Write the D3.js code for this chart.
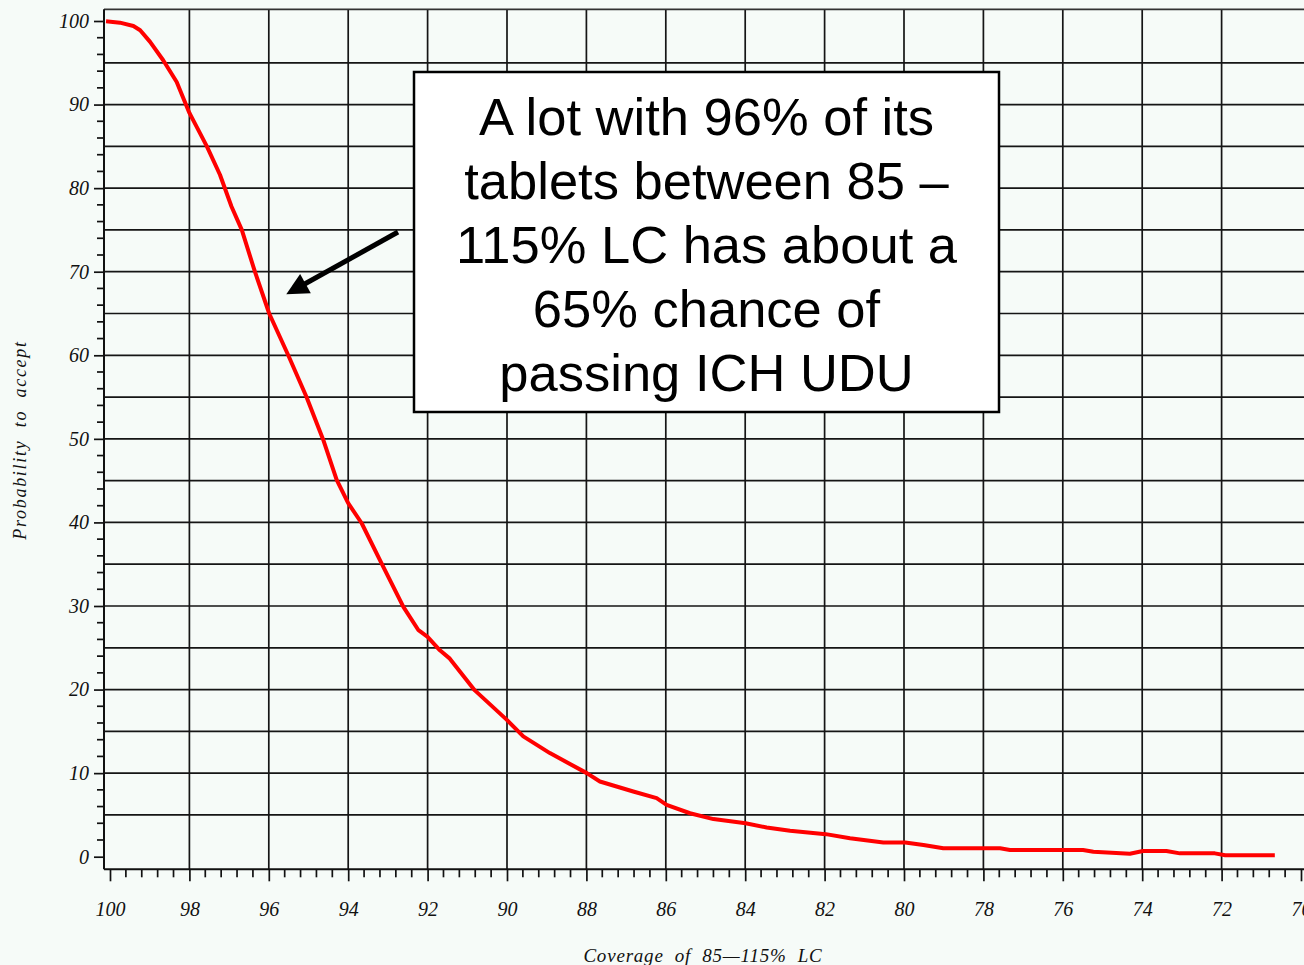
<!DOCTYPE html>
<html>
<head>
<meta charset="utf-8">
<script src="https://cdn.jsdelivr.net/npm/d3@7"></script>
<style>
  html, body { margin: 0; padding: 0; background: #f6fbf8; }
  svg { display: block; }
</style>
</head>
<body>
<script>
// ---- Data ----
const coverage = [100.05, 99.75, 99.41, 99.24, 98.99, 98.66, 98.32, 98.0, 97.56, 97.23, 96.94, 96.68, 96.35, 95.99, 95.51, 95.05, 94.63, 94.29, 94.0, 93.66, 93.16, 92.61, 92.23, 92.0, 91.69, 91.44, 90.81, 90.01, 89.59, 88.92, 87.99, 87.66, 86.82, 86.23, 85.98, 85.39, 84.80, 83.99, 83.46, 82.87, 81.97, 81.36, 80.52, 79.97, 79.51, 79.01, 77.58, 77.33, 75.49, 75.23, 74.31, 73.98, 73.39, 73.05, 72.17, 71.91, 70.71];
const probability = [99.95, 99.8, 99.4, 98.9, 97.5, 95.3, 92.7, 89.0, 85.0, 81.6, 77.8, 75.0, 70.0, 65.0, 60.0, 55.0, 49.9, 45.1, 42.3, 39.9, 35.1, 29.9, 27.1, 26.3, 24.7, 23.7, 19.9, 16.4, 14.4, 12.4, 10.0, 9.0, 7.8, 7.0, 6.2, 5.2, 4.5, 4.0, 3.5, 3.1, 2.7, 2.2, 1.7, 1.7, 1.4, 1.0, 1.0, 0.8, 0.8, 0.6, 0.35, 0.68, 0.68, 0.4, 0.4, 0.17, 0.17];

const xTickLabels = [100, 98, 96, 94, 92, 90, 88, 86, 84, 82, 80, 78, 76, 74, 72, 70];
const yTickLabels = [0, 10, 20, 30, 40, 50, 60, 70, 80, 90, 100];
const xGridValues = [98, 96, 94, 92, 90, 88, 86, 84, 82, 80, 78, 76, 74, 72];
const yGridValues = [5, 10, 15, 20, 25, 30, 35, 40, 45, 50, 55, 60, 65, 70, 75, 80, 85, 90, 95];

const xTitle = "Coverage  of  85\u2014115%  LC";
const yTitle = "Probability  to  accept";
const noteLines = ["A lot with 96% of its", "tablets between 85 \u2013", "115% LC has about a", "65% chance of", "passing ICH UDU"];
const noteTarget = [95.56, 67.3];

// ---- Layout ----
const W = 1304, H = 965;
const plotLeft = 104, plotTop = 9.3, plotBottom = 869.3, plotRight = 1304;

const x = d3.scaleLinear().domain([100, 70]).range([110, 1301]);
const y = d3.scaleLinear().domain([0, 100]).range([856.7, 21]);

const svg = d3.select("body").append("svg").attr("width", W).attr("height", H);
svg.append("rect").attr("width", W).attr("height", H).attr("fill", "#f6fbf8");

const labelFont = "'Liberation Serif', 'Times New Roman', serif";

// grid
const grid = svg.append("g").attr("stroke", "#151515").attr("stroke-width", 1.7);
grid.selectAll("line.h").data(yGridValues).join("line")
  .attr("x1", plotLeft).attr("x2", plotRight)
  .attr("y1", d => y(d)).attr("y2", d => y(d));
grid.selectAll("line.v").data(xGridValues).join("line")
  .attr("y1", plotTop).attr("y2", plotBottom)
  .attr("x1", d => x(d)).attr("x2", d => x(d));
// top frame
svg.append("line").attr("x1", plotLeft).attr("x2", plotRight)
  .attr("y1", plotTop).attr("y2", plotTop).attr("stroke", "#333").attr("stroke-width", 1.8);

// y axis
const yMinor = d3.range(0, 101, 2).filter(d => d % 10 !== 0);
const yAxis = d3.axisLeft(y).tickValues(yTickLabels).tickSize(10).tickPadding(5).tickSizeOuter(0);
const gy = svg.append("g").attr("transform", `translate(${plotLeft},0)`).call(yAxis);
gy.select(".domain").remove();
gy.selectAll(".tick line").attr("stroke", "#111").attr("stroke-width", 1.7);
gy.selectAll(".tick text").attr("font-family", labelFont).attr("font-style", "italic")
  .attr("font-size", 20).attr("fill", "#111");
gy.append("g").selectAll("line").data(yMinor).join("line")
  .attr("x1", -7).attr("x2", 0).attr("y1", d => y(d)).attr("y2", d => y(d))
  .attr("stroke", "#111").attr("stroke-width", 1.7);
svg.append("line").attr("x1", plotLeft).attr("x2", plotLeft).attr("y1", plotTop).attr("y2", plotBottom)
  .attr("stroke", "#111").attr("stroke-width", 2);

// x axis
const xMinor = d3.range(0, 76).map(i => +(100 - i * 0.4).toFixed(2)).filter(d => Math.abs(d / 2 - Math.round(d / 2)) > 1e-6);
const xAxis = d3.axisBottom(x).tickValues(xTickLabels).tickSize(12).tickPadding(21).tickSizeOuter(0);
const gx = svg.append("g").attr("transform", `translate(0,${plotBottom})`).call(xAxis);
gx.select(".domain").remove();
gx.selectAll(".tick line").attr("stroke", "#111").attr("stroke-width", 1.7);
gx.selectAll(".tick text").attr("font-family", labelFont).attr("font-style", "italic")
  .attr("font-size", 20).attr("fill", "#111");
gx.append("g").selectAll("line").data(xMinor).join("line")
  .attr("x1", d => x(d)).attr("x2", d => x(d)).attr("y1", 0).attr("y2", 8)
  .attr("stroke", "#111").attr("stroke-width", 1.7);
svg.append("line").attr("x1", plotLeft).attr("x2", plotRight).attr("y1", plotBottom).attr("y2", plotBottom)
  .attr("stroke", "#111").attr("stroke-width", 2);

// axis titles
svg.append("text").attr("x", 703).attr("y", 962).attr("text-anchor", "middle")
  .attr("font-family", labelFont).attr("font-style", "italic").attr("font-size", 19)
  .attr("letter-spacing", 0.8)
  .attr("fill", "#111").attr("style", "white-space:pre").text(xTitle);
svg.append("text").attr("transform", "translate(26,440) rotate(-90)").attr("text-anchor", "middle")
  .attr("font-family", labelFont).attr("font-style", "italic").attr("font-size", 18)
  .attr("letter-spacing", 1.7)
  .attr("fill", "#111").attr("style", "white-space:pre").text(yTitle);

// curve
const pts = coverage.map((c, i) => [c, probability[i]]);
svg.append("path").datum(pts)
  .attr("d", d3.line().x(d => x(d[0])).y(d => y(d[1])))
  .attr("fill", "none").attr("stroke", "#ff0000").attr("stroke-width", 4)
  .attr("stroke-linejoin", "round").attr("stroke-linecap", "square");

// annotation box
const box = {x0: 414, y0: 72, x1: 999, y1: 412};
svg.append("rect").attr("x", box.x0).attr("y", box.y0)
  .attr("width", box.x1 - box.x0).attr("height", box.y1 - box.y0)
  .attr("fill", "#ffffff").attr("stroke", "#000").attr("stroke-width", 2.5);
const tx = (box.x0 + box.x1) / 2;
svg.append("g").selectAll("text").data(noteLines).join("text")
  .attr("x", tx).attr("y", (d, i) => 135 + i * 64)
  .attr("text-anchor", "middle")
  .attr("font-family", "'Liberation Sans', Arial, sans-serif").attr("font-size", 52.5)
  .attr("fill", "#000").text(d => d);

// arrow
const tip = [x(noteTarget[0]), y(noteTarget[1])];
const start = [398, 232];
const ang = Math.atan2(tip[1] - start[1], tip[0] - start[0]);
const headLen = 22, headHalf = 11;
const base = [tip[0] - headLen * Math.cos(ang), tip[1] - headLen * Math.sin(ang)];
svg.append("line").attr("x1", start[0]).attr("y1", start[1])
  .attr("x2", base[0] + 2 * Math.cos(ang)).attr("y2", base[1] + 2 * Math.sin(ang))
  .attr("stroke", "#000").attr("stroke-width", 5);
svg.append("polygon").attr("points", [
  tip,
  [base[0] + headHalf * Math.sin(ang), base[1] - headHalf * Math.cos(ang)],
  [base[0] - headHalf * Math.sin(ang), base[1] + headHalf * Math.cos(ang)]
].map(p => p.join(",")).join(" ")).attr("fill", "#000");
</script>
</body>
</html>
